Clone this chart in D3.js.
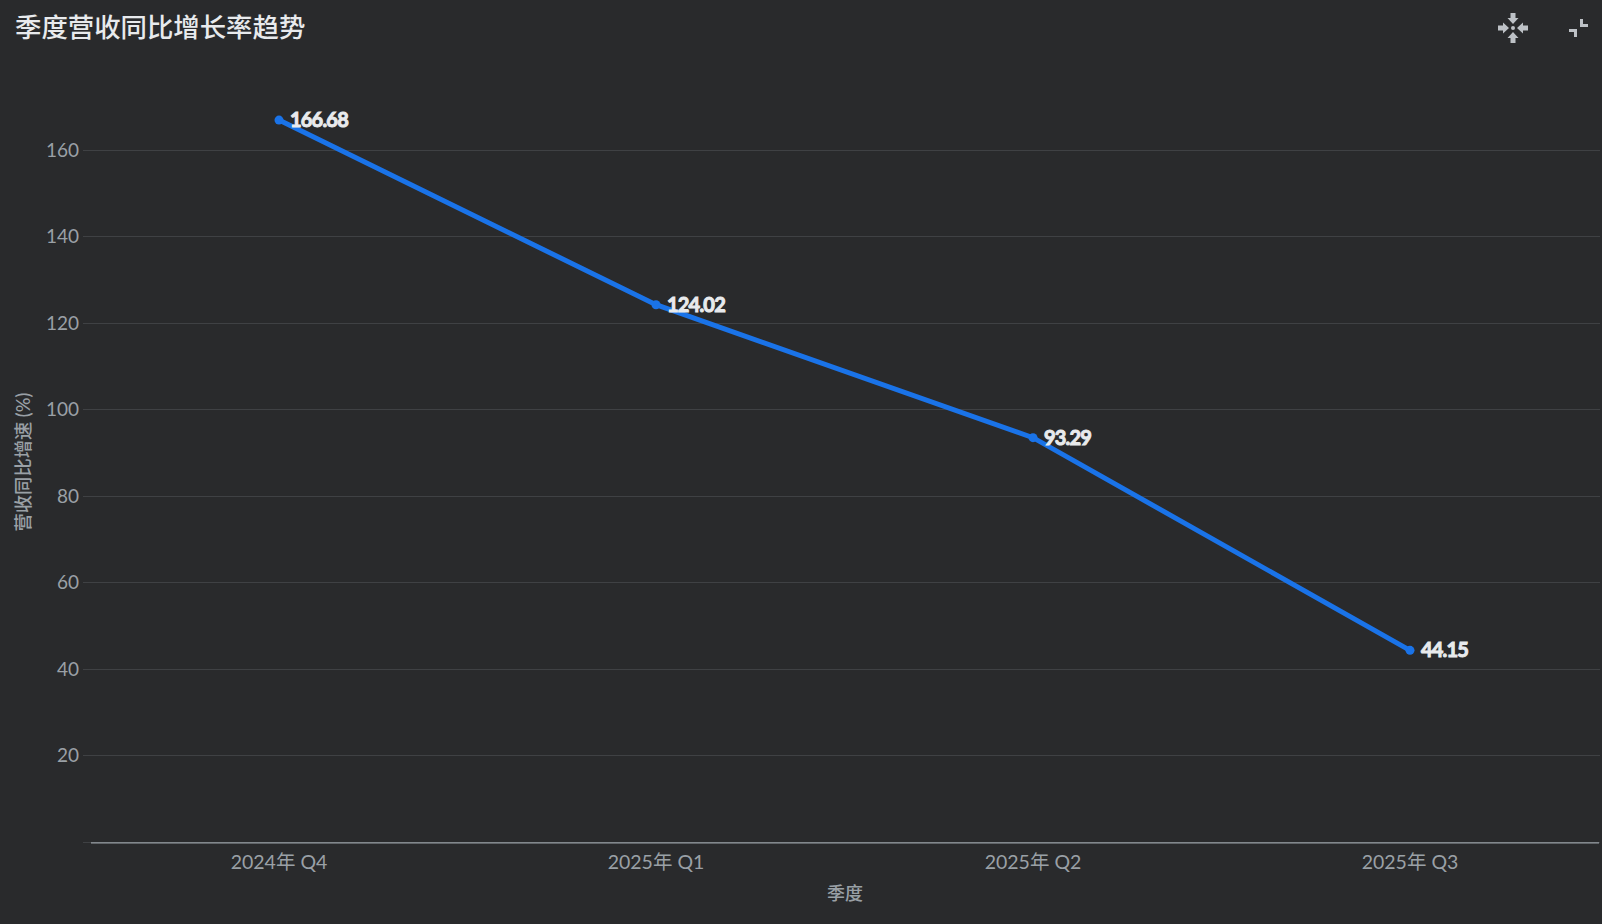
<!DOCTYPE html>
<html><head><meta charset="utf-8">
<script src="https://cdn.jsdelivr.net/npm/d3@7/dist/d3.min.js"></script>
<style>
html,body{margin:0;padding:0;background:#292a2c;overflow:hidden}
svg{display:block}
text{font-family:Lato,"Noto Sans CJK SC",sans-serif}
</style></head><body><div id="chart"></div>
<script>
const categories = ["2024年 Q4","2025年 Q1","2025年 Q2","2025年 Q3"];
const growth = [166.68,124.02,93.29,44.15];
const yTicks = [20,40,60,80,100,120,140,160];
const chartTitle = "季度营收同比增长率趋势";
const xTitle = "季度";
const yTitle = "营收同比增速 (%)";

const W=1602,H=924;
const svg=d3.select("#chart").append("svg").attr("width",W).attr("height",H);
svg.append("rect").attr("width",W).attr("height",H).attr("fill","#292a2c");
const x=d3.scaleBand().domain(categories).range([90.5,1598.5]);
const y=d3.scaleLinear().domain([0,160]).range([842.4,150]);

const gy=svg.append("g").attr("transform","translate(91,0)")
 .call(d3.axisLeft(y).tickValues(yTicks).tickSize(0).tickPadding(12));
gy.select(".domain").remove();
gy.selectAll("text").attr("fill","#9aa0a6").style("font-size","19px");
svg.append("g").selectAll("line").data([0,...yTicks]).join("line")
 .attr("x1",83).attr("x2",1600).attr("y1",d=>Math.floor(y(d))+.5).attr("y2",d=>Math.floor(y(d))+.5)
 .attr("stroke","#3f4144").attr("stroke-width",1);

const gx=svg.append("g").attr("transform",`translate(0,${y(0)})`)
 .call(d3.axisBottom(x).tickSize(0).tickPadding(8));
gx.select(".domain").attr("stroke","#9aa0a6").attr("stroke-width",1.4);
gx.selectAll("text").attr("fill","#9aa0a6").style("font-size","19.5px").attr("dy","0.95em");

const series=svg.append("g").attr("transform","translate(0,-1)");
const line=d3.line().x((d,i)=>x(categories[i])+x.bandwidth()/2).y(d=>y(d));
series.append("path").datum(growth).attr("d",line).attr("fill","none").attr("stroke","#1a73e8").attr("stroke-width",5);
const pts=series.append("g").selectAll("g").data(growth).join("g")
 .attr("transform",(d,i)=>`translate(${x(categories[i])+x.bandwidth()/2},${y(d)})`);
pts.append("circle").attr("r",4.5).attr("fill","#1a73e8");
pts.append("text").text(d=>d.toFixed(2)).attr("x",11).attr("dy","0.35em")
 .attr("fill","#e8eaed").attr("stroke","#e8eaed").attr("stroke-width",1)
 .style("font-size","20px").style("font-weight",700).style("letter-spacing","-0.8px");

svg.append("text").text(chartTitle).attr("x",15).attr("y",37).attr("fill","#e8eaed")
 .style("font-size","26.4px").style("font-weight",500);
svg.append("text").text(xTitle).attr("x",845).attr("y",900).attr("text-anchor","middle").attr("fill","#9aa0a6").style("font-size","18px").style("font-weight",500);
svg.append("text").text(yTitle).attr("transform","translate(30,462) rotate(-90)").attr("text-anchor","middle").attr("fill","#9aa0a6").style("font-size","18.3px").style("font-weight",500);

// toolbar icons
const ic=svg.append("g").attr("fill","#bdc1c6");
const arrow="M-2.5,-15 H2.5 V-10 H5.5 L0,-4 L-5.5,-10 H-2.5 Z";
[0,90,180,270].forEach(a=>ic.append("path").attr("d",arrow).attr("transform",`translate(1513,28) rotate(${a})`));
ic.append("circle").attr("cx",1513).attr("cy",28).attr("r",2);
ic.append("path").attr("d","M1580,19 h3 v5 h5 v3 h-8 Z");
ic.append("path").attr("d","M1569,29 h8 v8 h-3 v-5 h-5 Z");
</script></body></html>
